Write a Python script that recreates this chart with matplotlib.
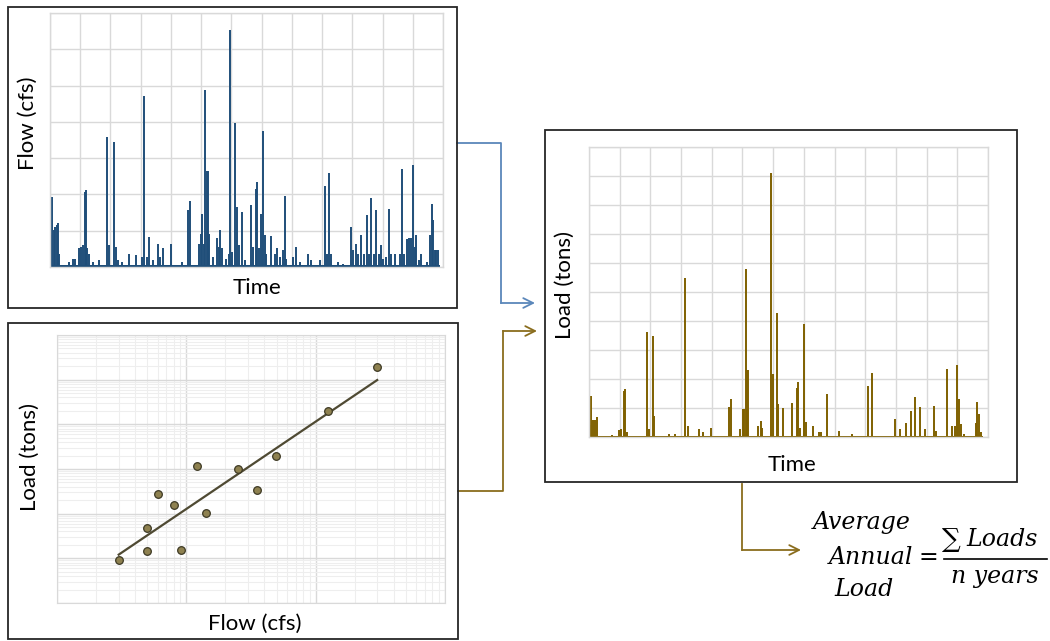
import matplotlib
matplotlib.use("Agg")
import matplotlib.pyplot as plt
import numpy as np
from matplotlib.patches import Rectangle, FancyArrowPatch
from matplotlib.lines import Line2D
from matplotlib.ticker import LogLocator, NullFormatter

# ---------------- data ----------------
# Flow time series (time in years, flow in grid units)
flow_t = [0.03, 0.08, 0.13, 0.18, 0.22, 0.26, 0.31,
          0.64, 0.77, 0.83, 0.96, 1.01, 1.08, 1.15, 1.19, 1.24, 1.30, 1.43, 1.62,
          1.89, 1.96, 2.12, 2.17, 2.26, 2.37, 2.62, 2.83, 3.03, 3.12, 3.20, 3.27, 3.42,
          3.58, 3.64, 3.75, 3.99, 4.35,
          4.58, 4.64, 4.94, 4.99, 5.03, 5.08, 5.12, 5.18, 5.22, 5.27, 5.40, 5.53, 5.58,
          5.63, 5.69, 5.82, 5.93, 5.96, 6.03, 6.13, 6.17, 6.24, 6.34, 6.45, 6.65, 6.72,
          6.81, 6.85, 6.91, 6.98, 7.05, 7.11, 7.16, 7.32, 7.44, 7.52, 7.60, 7.71, 7.77,
          7.82, 8.04, 8.13, 8.26, 8.54, 8.65, 8.92, 9.09, 9.15, 9.22, 9.28, 9.53, 9.70,
          9.97, 10.03, 10.11, 10.19, 10.30, 10.38, 10.47, 10.56, 10.63, 10.71, 10.80,
          10.87, 10.94, 11.02, 11.13, 11.22, 11.29, 11.40, 11.57, 11.65, 11.71, 11.81,
          11.88, 11.95, 12.01, 12.06, 12.12, 12.21, 12.26, 12.47, 12.56, 12.63, 12.67,
          12.72, 12.78, 12.85]
flow_v = [0.88, 1.93, 1.01, 1.11, 1.15, 1.20, 0.37,
          0.14, 0.23, 0.23, 0.51, 0.55, 0.60, 2.07, 2.12, 0.51, 0.37, 0.14, 0.18,
          3.59, 0.60, 3.45, 0.55, 0.18, 0.14, 0.35, 0.32, 0.28, 4.70, 0.28, 0.83, 0.18,
          0.64, 0.28, 0.51, 0.64, 0.14,
          1.58, 1.82, 0.64, 0.92, 1.47, 0.64, 4.88, 2.65, 2.65, 0.92, 0.28, 0.81, 0.55,
          1.01, 0.51, 0.23, 0.37, 6.54, 0.41, 3.98, 1.64, 0.60, 1.52, 0.18, 1.70, 0.55,
          2.16, 2.35, 0.51, 1.47, 3.75, 0.88, 0.37, 0.85, 0.37, 0.51, 0.28, 0.46, 1.96,
          0.23, 0.28, 0.55, 0.14, 0.35, 0.18, 0.18, 2.23, 0.37, 2.60, 0.37, 0.14, 0.09,
          1.11, 0.46, 0.64, 0.37, 0.89, 0.37, 1.42, 0.37, 1.91, 0.37, 1.57,
          0.37, 0.60, 0.23, 0.28, 1.59, 0.37, 0.35, 0.37, 2.69, 0.37, 0.78,
          0.80, 0.81, 2.81, 0.55, 0.88, 0.18, 0.35, 0.14, 0.89, 1.73, 1.29,
          0.46, 0.48, 0.48]
flow_base = 0.05

# Load time series (time in years, load in grid units)
load_t = [0.02, 0.08, 0.13, 0.18, 0.26, 0.76, 0.97, 1.05, 1.13, 1.17, 1.24,
          1.90, 1.95, 2.09, 2.13, 2.61, 2.81, 3.12, 3.21, 3.57, 3.72, 3.98,
          4.55, 4.62, 4.93, 5.02, 5.06, 5.10, 5.16, 5.19, 5.50, 5.60, 5.65,
          5.94, 5.98, 6.11, 6.16, 6.32, 6.60, 6.77, 6.82, 6.87, 6.99, 7.02,
          7.06, 7.30, 7.49, 7.57, 7.76, 8.13, 8.58, 9.08, 9.21, 9.98, 10.12,
          10.32, 10.48, 10.62, 10.79, 10.94, 11.24, 11.29, 11.65, 11.82, 11.91,
          12.00, 12.04, 12.11, 12.22, 12.62, 12.65, 12.70, 12.78]
load_v = [0.41, 1.42, 0.59, 0.59, 0.68, 0.07, 0.23, 0.26, 1.60, 1.64, 0.18,
          3.61, 0.26, 3.47, 0.71, 0.09, 0.09, 5.49, 0.39, 0.29, 0.18, 0.30,
          1.03, 1.32, 0.26, 0.96, 0.96, 5.81, 2.31, 2.31, 0.39, 0.55, 0.30,
          9.10, 2.18, 4.28, 1.14, 0.99, 1.18, 1.68, 1.88, 0.30, 0.96, 3.88,
          0.53, 0.39, 0.16, 0.18, 1.47, 0.21, 0.09, 1.76, 2.22, 0.61, 0.29,
          0.47, 0.91, 1.39, 1.02, 0.26, 1.07, 0.21, 2.35, 0.39, 0.39,
          2.50, 1.31, 0.44, 0.11, 0.47, 1.21, 0.79, 0.18]
load_base = 0.03

# Load vs flow observations (log-log)
obs_flow = [3.0, 5.0, 5.0, 6.05, 8.0, 9.1, 12.1, 14.1, 25.0, 35.0, 49.5, 125.0, 296.0]
obs_load = [9.0, 14.7, 48.9, 277.0, 155.0, 15.4, 1197.0, 102.0, 975.0, 341.0, 1941.0,
            19770.0, 188000.0]
trend_flow = [3.0, 299.0]
trend_load = [12.1, 98000.0]

# ---------------- style ----------------
W, H = 1050, 641
fig = plt.figure(figsize=(W / 100, H / 100), dpi=100)
fig.patch.set_facecolor("white")

LABEL_FONT = ["Lato", "DejaVu Sans"]
LABEL_SIZE = 16
FLOW_C = "#1f4e79"
LOAD_C = "#7f6000"
GRID_C = "#d9d9d9"
BLUE_ARROW = "#5b87ba"
GOLD_ARROW = "#8a6d1e"


def fx(px):
    return px / W


def fy(py):
    return 1 - py / H


def add_axes_px(x0, y0, x1, y1):
    return fig.add_axes([fx(x0), fy(y1), (x1 - x0) / W, (y1 - y0) / H])


def box(x0, y0, x1, y1):
    fig.patches.append(Rectangle((fx(x0), fy(y1)), (x1 - x0) / W, (y1 - y0) / H,
                                 transform=fig.transFigure, fill=False,
                                 edgecolor="#262626", linewidth=1.3, zorder=5))


def style_lin(ax, nx, ny):
    ax.set_xlim(0, nx)
    ax.set_ylim(0, ny)
    ax.set_xticks(np.arange(0, nx + 1))
    ax.set_yticks(np.arange(0, ny + 1))
    ax.tick_params(length=0, labelbottom=False, labelleft=False)
    ax.grid(True, color=GRID_C, linewidth=1.0)
    ax.set_axisbelow(True)
    for s in ax.spines.values():
        s.set_color(GRID_C)
        s.set_linewidth(1.0)


# ---------------- flow panel ----------------
box(8, 7, 457, 308)
ax1 = add_axes_px(50, 13, 443, 267)
style_lin(ax1, 13, 7)
ax1.fill_between([0.0, 12.9], 0, flow_base, color=FLOW_C, linewidth=0)
ax1.vlines(flow_t, 0, flow_v, color=FLOW_C, linewidth=1.4)
fig.text(fx(257), fy(288), "Time", ha="center", va="center", fontsize=LABEL_SIZE,
         family=LABEL_FONT)
fig.text(fx(28), fy(123), "Flow (cfs)", ha="center", va="center", rotation=90,
         fontsize=LABEL_SIZE, family=LABEL_FONT)

# ---------------- scatter panel ----------------
box(8, 323, 458, 639)
ax2 = add_axes_px(57, 335, 445, 603)
ax2.set_xscale("log")
ax2.set_yscale("log")
ax2.set_xlim(1, 1000)
ax2.set_ylim(1, 1e6)
ax2.xaxis.set_major_locator(LogLocator(base=10, numticks=10))
ax2.yaxis.set_major_locator(LogLocator(base=10, numticks=10))
ax2.xaxis.set_minor_locator(LogLocator(base=10, subs=np.arange(2, 10), numticks=20))
ax2.yaxis.set_minor_locator(LogLocator(base=10, subs=np.arange(2, 10), numticks=20))
ax2.xaxis.set_minor_formatter(NullFormatter())
ax2.yaxis.set_minor_formatter(NullFormatter())
ax2.tick_params(which="both", length=0, labelbottom=False, labelleft=False)
ax2.grid(True, which="major", color=GRID_C, linewidth=1.0)
ax2.grid(True, which="minor", color="#eeeeee", linewidth=0.8)
ax2.set_axisbelow(True)
for s in ax2.spines.values():
    s.set_color(GRID_C)
ax2.plot(trend_flow, trend_load, color="#4f4a33", linewidth=1.6, zorder=3)
ax2.plot(obs_flow, obs_load, linestyle="none", marker="o", markersize=5.5,
         markerfacecolor="#8e8150", markeredgecolor="#3d3924", markeredgewidth=0.9, zorder=4)
fig.text(fx(30), fy(457), "Load (tons)", ha="center", va="center", rotation=90,
         fontsize=LABEL_SIZE, family=LABEL_FONT)
fig.text(fx(255), fy(624), "Flow (cfs)", ha="center", va="center", fontsize=LABEL_SIZE,
         family=LABEL_FONT)

# ---------------- load panel ----------------
box(545, 130, 1017, 482)
ax3 = add_axes_px(589, 147, 988, 437)
style_lin(ax3, 13, 10)
ax3.fill_between([0.0, 12.85], 0, load_base, color=LOAD_C, linewidth=0)
ax3.vlines(load_t, 0, load_v, color=LOAD_C, linewidth=1.4)
fig.text(fx(565), fy(285), "Load (tons)", ha="center", va="center", rotation=90,
         fontsize=LABEL_SIZE, family=LABEL_FONT)
fig.text(fx(792), fy(465), "Time", ha="center", va="center", fontsize=LABEL_SIZE,
         family=LABEL_FONT)


# ---------------- connectors ----------------
def connector(points, color):
    xs = [fx(p[0]) for p in points[:-1]]
    ys = [fy(p[1]) for p in points[:-1]]
    fig.lines.append(Line2D(xs, ys, transform=fig.transFigure, color=color, linewidth=1.3))
    a = FancyArrowPatch((fx(points[-2][0]), fy(points[-2][1])),
                        (fx(points[-1][0]), fy(points[-1][1])),
                        transform=fig.transFigure, arrowstyle="->,head_length=7,head_width=3.5",
                        color=color, linewidth=1.3, shrinkA=0, shrinkB=0)
    fig.patches.append(a)


connector([(457, 143), (501, 143), (501, 303), (535, 303)], BLUE_ARROW)
connector([(458, 491), (503, 491), (503, 331), (537, 331)], GOLD_ARROW)
connector([(742, 484), (742, 550), (801, 550)], GOLD_ARROW)

# ---------------- formula ----------------
FORM = dict(family="DejaVu Serif", style="italic", fontsize=17, va="center")
fig.text(fx(862), fy(523), "Average", ha="center", **FORM)
fig.text(fx(871), fy(557), "Annual", ha="center", **FORM)
fig.text(fx(864), fy(590), "Load", ha="center", **FORM)
fig.text(fx(928), fy(557), "=", ha="center", family="DejaVu Serif", fontsize=17, va="center")
fig.text(fx(951), fy(540), "\u2211", ha="center", family="DejaVu Serif", fontsize=19, va="center")
fig.text(fx(1002), fy(539), "Loads", ha="center", **FORM)
fig.text(fx(995), fy(577), "n years", ha="center", **FORM)
fig.lines.append(Line2D([fx(944), fx(1047)], [fy(559), fy(559)], transform=fig.transFigure,
                        color="black", linewidth=1.2))

fig.savefig("out.png", dpi=100)
